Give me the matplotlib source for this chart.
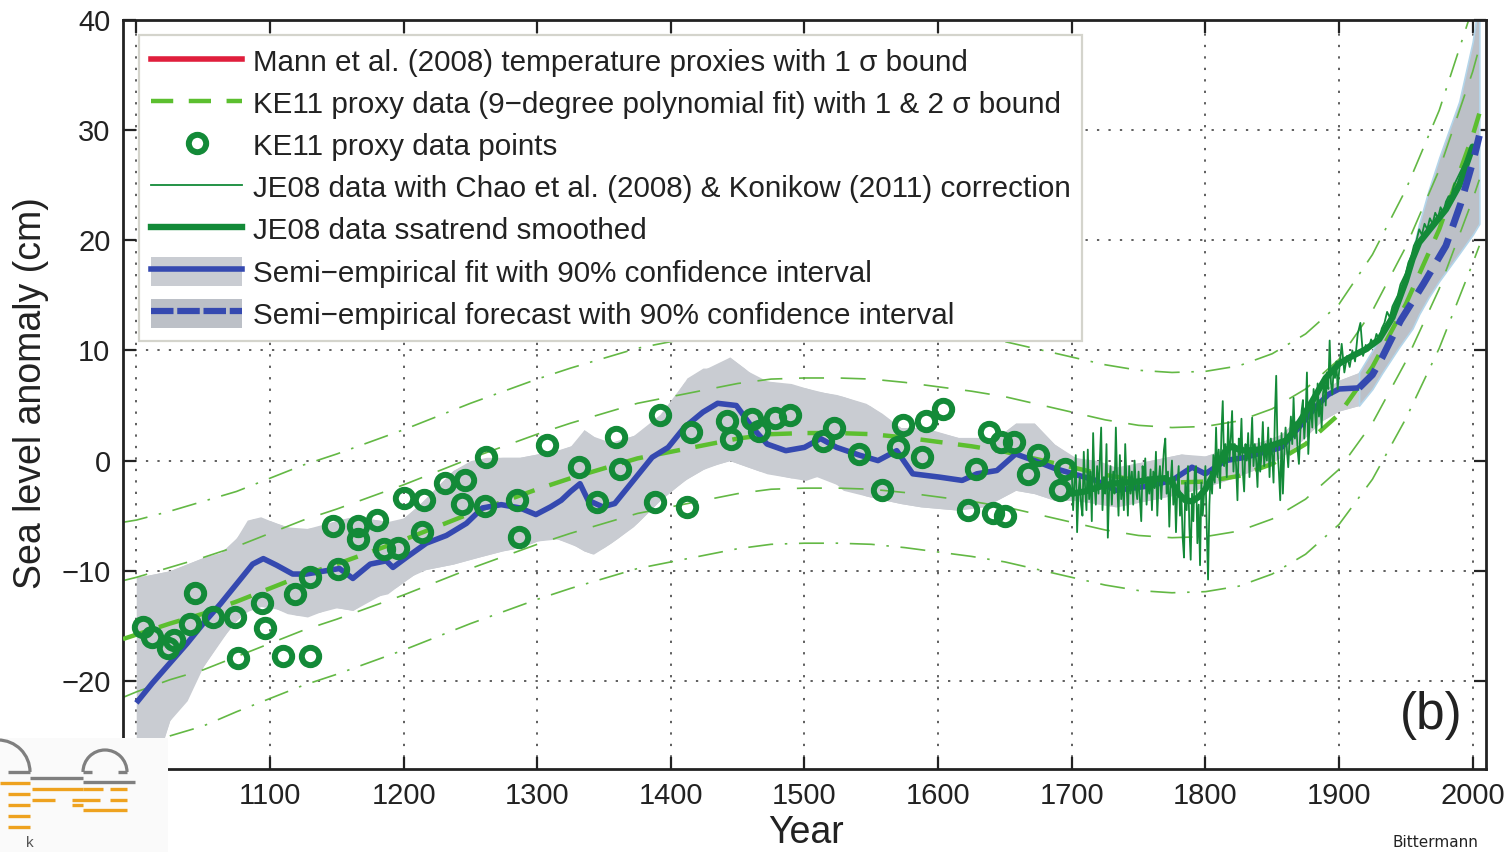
import matplotlib
matplotlib.use("Agg")
import matplotlib.pyplot as plt
import numpy as np
from matplotlib.lines import Line2D
from matplotlib.patches import Patch, Arc
from matplotlib.legend_handler import HandlerTuple

plt.rcParams['font.family'] = ['Liberation Sans', 'DejaVu Sans']

# ---------------- data ----------------
# KE11 9-degree polynomial fit (cm) and its 1-sigma width
ke11_fit_years = [990, 1000, 1025, 1050, 1075, 1100, 1125, 1150, 1175, 1200, 1225, 1250,
                  1275, 1300, 1325, 1350, 1375, 1400, 1425, 1450, 1475, 1500, 1525, 1550,
                  1575, 1600, 1625, 1650, 1675, 1700, 1725, 1750, 1775, 1800, 1825, 1850,
                  1875, 1900, 1925, 1950, 1975, 2000, 2005]
ke11_fit = [-16.2, -15.8, -14.8, -13.9, -12.8, -11.6, -10.4, -9.4, -8.3, -7.2, -6.0, -4.8,
            -3.7, -2.6, -1.6, -0.7, 0.2, 0.8, 1.4, 2.0, 2.4, 2.5, 2.5, 2.4,
            2.1, 1.7, 1.3, 0.8, 0.1, -0.6, -1.3, -1.8, -2.0, -1.9, -1.4, -0.3,
            1.5, 4.2, 8.5, 14.2, 21.0, 29.5, 31.5]
ke11_sigma = [5.3, 5.2, 5.1, 5.1, 5.0, 5.0, 5.0, 5.0, 5.0, 5.0, 5.0, 5.0,
              5.0, 5.0, 5.0, 5.0, 5.0, 5.0, 5.0, 5.0, 5.0, 5.0, 5.0, 5.0,
              5.0, 5.0, 5.0, 5.0, 5.0, 5.0, 5.0, 5.0, 5.0, 5.0, 5.0, 5.0,
              5.0, 5.0, 5.1, 5.2, 5.4, 5.8, 6.0]

# KE11 proxy data points
ke11_pt_years = [1005, 1012, 1024, 1028, 1040, 1044, 1057, 1074, 1076, 1094, 1096, 1110,
                 1130, 1119, 1130, 1151, 1147, 1166, 1166, 1180, 1185, 1196, 1200, 1215,
                 1214, 1231, 1246, 1244, 1261, 1262, 1285, 1286, 1307,
                 1331, 1345, 1359, 1362, 1388, 1392, 1412, 1415, 1442, 1445, 1461, 1466,
                 1478, 1489, 1514, 1522, 1541, 1558, 1570, 1574, 1588, 1591, 1604, 1622,
                 1628, 1638, 1641, 1650, 1647, 1657, 1667, 1675, 1691, 1695]
ke11_pt_vals = [-15.1, -16.0, -17.0, -16.3, -14.8, -12.0, -14.2, -14.2, -17.9, -12.9, -15.2, -17.7,
                -17.7, -12.1, -10.6, -9.8, -5.9, -5.9, -7.1, -5.4, -8.0, -7.9, -3.4, -3.6,
                -6.5, -2.0, -1.8, -3.9, -4.1, 0.3, -3.6, -6.9, 1.4,
                -0.6, -3.8, 2.1, -0.8, -3.8, 4.1, -4.2, 2.6, 3.6, 2.0, 3.8, 2.7,
                3.9, 4.1, 1.8, 3.0, 0.6, -2.7, 1.2, 3.2, 0.3, 3.6, 4.7, -4.5,
                -0.8, 2.6, -4.8, -5.0, 1.7, 1.7, -1.2, 0.5, -2.7, -0.8]

# JE08 (Chao & Konikow corrected) yearly data
je08_years = list(range(1700, 1901)) + list(range(1902, 2001, 2))
je08_vals = [
    -1.0, -4.5, -2.0, 0.5, -6.5, -3.0, -1.5, -4.0, -5.0, 0.8,
    -2.5, -4.5, 1.0, -3.5, -1.0, -5.5, 2.5, -2.0, -4.0, -0.5,
    -3.0, 0.0, 3.0, -4.5, -1.5, -3.0, 1.5, -7.0, -2.5, -0.5,
    -4.0, -1.0, -3.0, 3.0, -2.0, -5.0, 0.5, -3.5, -1.5, -4.5,
    1.5, -2.0, -5.0, -0.5, -3.0, -1.0, -4.0, 0.0, -2.5, -3.5,
    -1.0, -3.5, -5.5, -0.5, -2.0, 0.2, -4.0, -1.5, -3.0, -0.8,
    -4.5, -1.0, -2.5, 0.8, -5.0, -2.0, -0.5, -3.5, -1.0, 1.0,
    2.0, -3.0, -1.0, -6.0, -2.0, 0.0, -4.0, -1.5, -6.5, -2.5,
    -0.5, -5.0, -3.0, -7.0, -8.8, -2.0, -4.5, -0.5, -6.0, -9.0,
    -3.0, -5.5, -1.0, -0.5, -7.5, -4.0, -9.5, -2.0, -5.0, -3.0,
    -0.5, -6.0, -10.8, -4.0, -1.0, -3.0, 0.5, -2.0, 3.0, -1.5,
    1.0, -2.5, 2.5, 5.4, -0.5, 1.5, -1.5, 3.5, 0.0, 2.0,
    4.5, -1.0, 1.5, -0.5, -3.6, 2.0, 0.5, 3.8, -1.0, -2.8,
    1.5, 0.0, 2.5, -1.5, 1.0, 3.9, -0.5, 1.5, 0.0, -2.4,
    2.0, -1.0, 0.5, 3.5, -0.5, 1.5, 0.0, 3.0, -1.5, 2.0,
    0.5, -2.0, 4.0, 7.7, 1.0, -1.0, -3.6, 2.5, -3.0, 0.5,
    3.0, 1.0, -0.6, 2.0, 4.0, 1.5, 5.7, 2.0, 3.5, 1.0,
    -0.3, 2.5, 4.5, 5.5, 2.0, 4.0, 8.0, 0.6, 3.5, 5.0,
    3.0, 6.5, 4.5, 2.5, 7.0, 4.0, 5.5, 3.0, 6.0, 7.5,
    5.0, 8.0, 6.5, 10.9, 7.0, 6.0, 8.5, 7.5, 9.0, 6.5,
    8.0,
    10.6, 8.0, 9.5, 8.5, 10.0, 9.0, 11.5, 12.5, 9.5, 10.5,
    10.0, 11.0, 10.5, 11.5, 11.0, 12.0, 12.5, 13.5, 13.0, 14.0,
    14.5, 15.0, 16.0, 16.5, 17.0, 18.0, 18.5, 19.5, 20.0, 21.0,
    20.5, 21.5, 21.0, 22.0, 21.5, 22.5, 22.0, 23.0, 22.5, 23.5,
    24.0, 24.0, 25.0, 25.5, 26.0, 26.5, 27.0, 27.5, 28.0, 28.5]

# JE08 ssatrend smoothed
je08s_years = [1700, 1710, 1720, 1730, 1740, 1750, 1760, 1770, 1775, 1780, 1785, 1790,
               1795, 1800, 1805, 1810, 1815, 1820, 1825, 1830, 1840, 1850, 1860, 1865,
               1870, 1880, 1890, 1900, 1910, 1920, 1930, 1940, 1950, 1955, 1960, 1970,
               1980, 1990, 2000]
je08s_vals = [-3.0, -2.8, -2.4, -2.1, -2.0, -1.9, -1.7, -1.6, -2.0, -3.0, -3.6, -3.7,
              -3.3, -2.6, -1.5, -0.3, 0.9, 1.3, 1.0, 0.9, 1.0, 1.4, 1.8, 2.5,
              3.4, 5.4, 7.5, 8.8, 9.5, 10.1, 11.0, 13.0, 16.3, 18.3, 19.8, 21.3,
              22.8, 25.0, 28.5]

# Semi-empirical fit
se_years = [1000, 1012, 1025, 1038, 1050, 1063, 1075, 1087, 1095, 1105, 1117, 1127,
            1142, 1152, 1162, 1175, 1187, 1192, 1202, 1217, 1232, 1247, 1259, 1273,
            1287, 1299, 1310, 1318, 1325, 1332, 1338, 1349, 1358, 1372, 1386, 1398,
            1410, 1424, 1435, 1449, 1461, 1472, 1486, 1500, 1512, 1524, 1541, 1555,
            1569, 1581, 1601, 1618, 1629, 1644, 1658, 1672, 1687, 1701, 1718, 1733,
            1758, 1775, 1790, 1800, 1815, 1830, 1845, 1857, 1872, 1882, 1892, 1900, 1915]
se_vals = [-22.0, -20.2, -18.4, -16.6, -14.8, -13.0, -11.2, -9.4, -8.9, -9.5, -10.3, -10.3,
           -10.0, -9.8, -10.7, -9.4, -9.1, -9.7, -8.8, -7.5, -6.8, -5.7, -4.3, -4.0,
           -4.3, -4.9, -4.2, -3.6, -2.8, -2.1, -3.6, -4.2, -3.9, -1.8, 0.3, 1.2,
           3.0, 4.4, 5.2, 5.0, 3.0, 1.5, 0.9, 1.2, 2.0, 1.2, 0.5, 0.0,
           0.9, -1.2, -1.5, -1.8, -1.2, -0.9, 0.6, 0.0, -0.7, -1.2, -1.8, -2.7,
           -2.3, -1.8, -0.6, -1.2, 0.0, 0.3, 0.8, 1.2, 3.3, 4.8, 6.0, 6.5, 6.6]

se_up_years = [1000, 1013, 1025, 1050, 1068, 1075, 1083, 1093, 1105, 1120, 1137, 1150,
               1162, 1182, 1195, 1207, 1217, 1227, 1237, 1250, 1262, 1274, 1287, 1300,
               1315, 1329, 1335, 1341, 1350, 1360, 1375, 1392, 1404, 1412, 1424, 1435,
               1444, 1455, 1466, 1490, 1509, 1524, 1546, 1558, 1572, 1587, 1598, 1615,
               1644, 1658, 1672, 1687, 1701, 1720, 1733, 1758, 1782, 1797, 1818, 1837,
               1857, 1872, 1887, 1900, 1915]
se_up = [-10.6, -10.3, -10.0, -8.8, -8.2, -7.0, -5.4, -5.1, -5.7, -6.3, -6.0, -5.4,
         -5.1, -5.4, -5.7, -4.5, -3.4, -2.1, -0.9, 0.0, 0.3, 0.3, 0.3, 0.6,
         0.9, 1.5, 2.8, 2.3, 1.5, 1.8, 2.4, 4.2, 6.0, 7.5, 8.4, 8.4,
         9.4, 8.4, 7.3, 7.0, 6.3, 6.0, 5.2, 4.3, 3.0, 3.0, 2.7, 2.1,
         2.1, 3.4, 3.4, 1.5, 0.3, 0.0, -0.6, 0.0, 0.6, 0.3, 1.2, 1.5,
         2.4, 4.2, 6.3, 7.3, 8.0]

se_lo_years = [1000, 1015, 1025, 1038, 1050, 1063, 1075, 1087, 1100, 1113, 1128, 1147,
               1162, 1177, 1188, 1200, 1212, 1237, 1255, 1274, 1287, 1300, 1312, 1325,
               1335, 1342, 1355, 1372, 1392, 1410, 1427, 1444, 1458, 1472, 1501, 1515,
               1529, 1549, 1572, 1587, 1615, 1635, 1644, 1658, 1672, 1687, 1703, 1733,
               1758, 1782, 1800, 1823, 1842, 1857, 1872, 1887, 1900, 1915]
se_lo = [-31.0, -27.5, -23.6, -21.8, -18.7, -16.3, -14.5, -13.3, -13.2, -13.9, -14.2, -13.3,
         -13.6, -12.4, -12.1, -11.0, -10.0, -9.4, -8.8, -8.2, -7.9, -7.3, -7.0, -7.5,
         -8.2, -8.5, -7.5, -6.0, -3.6, -1.8, -0.6, 0.0, -0.6, -1.2, -1.8, -1.2,
         -2.7, -3.3, -3.9, -4.2, -4.5, -4.2, -3.6, -2.7, -3.0, -3.6, -3.6, -4.2,
         -3.6, -3.0, -2.4, -1.5, -0.6, 0.3, 1.8, 3.6, 4.5, 5.0]

# Semi-empirical forecast
fc_years = [1915, 1925, 1932, 1946, 1963, 1980, 1991, 2001, 2005]
fc_vals = [6.6, 7.8, 9.3, 12.7, 16.0, 19.5, 23.3, 27.5, 29.5]
fc_band_years = [1915, 1925, 1932, 1945, 1955, 1960, 1967, 1975, 1990, 2000, 2005]
fc_up = [8.0, 10.0, 11.5, 14.5, 19.0, 21.5, 24.5, 27.5, 32.6, 38.0, 42.0]
fc_lo = [5.0, 6.5, 7.9, 10.3, 12.0, 13.3, 14.8, 16.3, 18.8, 20.5, 21.5]

x_ticks = [1000, 1100, 1200, 1300, 1400, 1500, 1600, 1700, 1800, 1900, 2000]
y_ticks = [-20, -10, 0, 10, 20, 30, 40]

legend_labels = [
    "Mann et al. (2008) temperature proxies with 1 \u03c3 bound",
    "KE11 proxy data (9\u2212degree polynomial fit) with 1 & 2 \u03c3 bound",
    "KE11 proxy data points",
    "JE08 data with Chao et al. (2008) & Konikow (2011) correction",
    "JE08 data ssatrend smoothed",
    "Semi\u2212empirical fit with 90% confidence interval",
    "Semi\u2212empirical forecast with 90% confidence interval",
]

# ---------------- styles ----------------
C_RED = '#e01e3c'
C_LGREEN = '#5cbf2f'
C_LGREEN_B = '#63b844'
C_DGREEN = '#138a38'
C_BLUE = '#3549b0'
C_BAND = '#c9ccd2'
C_BAND_FC = '#bcc0c7'
C_BAND_EDGE = '#b3d5ea'
C_TEXT = '#222222'

W, H = 1510, 852
fig = plt.figure(figsize=(W / 100, H / 100), dpi=100)
ax = fig.add_axes([123 / W, 1 - 769 / H, (1486 - 123) / W, (769 - 20) / H])

# bands
ax.fill_between(se_up_years, se_up, np.interp(se_up_years, se_lo_years, se_lo),
                color=C_BAND, lw=0, zorder=1)
ax.fill_between(se_lo_years, np.interp(se_lo_years, se_up_years, se_up), se_lo,
                color=C_BAND, lw=0, zorder=1)
ax.fill_between(fc_band_years, fc_up, fc_lo, facecolor=C_BAND_FC, edgecolor=C_BAND_EDGE,
                lw=1.2, zorder=1)

# KE11 fit and bounds
fy = np.array(ke11_fit_years)
fv = np.array(ke11_fit)
fs = np.array(ke11_sigma)
for k in (1, -1):
    ax.plot(fy, fv + k * fs, color=C_LGREEN_B, lw=1.2, ls=(0, (15, 10)), zorder=2)
    ax.plot(fy, fv + 2 * k * fs, color=C_LGREEN_B, lw=1.2, ls=(0, (15, 7, 1.5, 7)), zorder=2)
ax.plot(fy, fv, color=C_LGREEN, lw=3.2, ls=(0, (5, 3.5)), zorder=3)

# semi-empirical fit
ax.plot(se_years, se_vals, color=C_BLUE, lw=4, zorder=4, solid_capstyle='butt')

# KE11 points
ax.plot(ke11_pt_years, ke11_pt_vals, ls='none', marker='o', ms=12.5, mew=4.3,
        mec=C_DGREEN, mfc='none', zorder=5)

# JE08 data
ax.plot(je08_years, je08_vals, color=C_DGREEN, lw=1.3, zorder=6)
ax.plot(je08s_years, je08s_vals, color=C_DGREEN, lw=4.6, zorder=7, solid_capstyle='round')

# forecast
ax.plot(fc_years, fc_vals, color=C_BLUE, lw=5, ls=(0, (3.6, 1.8)), zorder=8)

ax.set_xlim(990, 2010)
ax.set_ylim(-28, 40)
ax.set_xticks(x_ticks)
ax.set_yticks(y_ticks)
ax.set_yticklabels([str(v).replace('-', '\u2212') for v in y_ticks])
ax.grid(True, color='#333333', lw=1.1, ls=(0, (1.5, 6)))
ax.set_axisbelow(True)
ax.tick_params(direction='in', length=9, width=1.6, top=True, right=True,
               labelsize=21, pad=9, colors=C_TEXT)
for s in ax.spines.values():
    s.set_linewidth(2)
    s.set_color(C_TEXT)

fig.text(31 / W, 1 - 393 / H, 'Sea level anomaly (cm)', rotation=90, ha='center',
         va='center', fontsize=27, color=C_TEXT)
fig.text(806 / W, 1 - 843 / H, 'Year', ha='center', va='baseline', fontsize=27, color=C_TEXT)
ax.text(0.960, 0.072, '(b)', transform=ax.transAxes, ha='center', va='center',
        fontsize=37, color=C_TEXT)

# legend
h_mann = Line2D([], [], color=C_RED, lw=4)
h_ke = Line2D([], [], color=C_LGREEN, lw=3.2, ls=(0, (5, 3.5)))
h_pts = Line2D([], [], ls='none', marker='o', ms=12.5, mew=4.3, mec=C_DGREEN, mfc='none')
h_je = Line2D([], [], color=C_DGREEN, lw=1.3)
h_jes = Line2D([], [], color=C_DGREEN, lw=4.6)
h_se = (Patch(facecolor=C_BAND, edgecolor='none'), Line2D([], [], color=C_BLUE, lw=4))
h_fc = (Patch(facecolor=C_BAND_FC, edgecolor='none'),
        Line2D([], [], color=C_BLUE, lw=4.5, ls=(0, (3.6, 0.6))))
leg = ax.legend([h_mann, h_ke, h_pts, h_je, h_jes, h_se, h_fc], legend_labels,
                loc='upper left', bbox_to_anchor=(0.0117, 0.98), borderaxespad=0,
                fontsize=21.3, handlelength=3.1, handleheight=1.1, handletextpad=0.34,
                labelspacing=0.40, borderpad=0.40, numpoints=1, fancybox=False,
                framealpha=1, edgecolor='#d4d4cc',
                handler_map={tuple: HandlerTuple(ndivide=1, pad=0)})
leg.get_frame().set_linewidth(1.6)
for t in leg.get_texts():
    t.set_color(C_TEXT)
leg.set_zorder(20)

# logo overlay (bottom-left)
lax = fig.add_axes([0, 0, 168 / W, (852 - 738) / H], zorder=30)
lax.set_xlim(0, 168)
lax.set_ylim(852, 738)
lax.set_facecolor('#fafafa')
lax.set_xticks([])
lax.set_yticks([])
for s in lax.spines.values():
    s.set_visible(False)
G = '#7f7f7f'
O = '#eea21f'
lax.add_patch(Arc((-2, 772), 64, 64, theta1=180, theta2=360, color=G, lw=2.3))
lax.add_patch(Arc((105, 772), 44, 44, theta1=180, theta2=360, color=G, lw=2.3))
for x0, x1, y, c in [(8, 30, 772, G), (83, 92, 772, G), (118, 127, 772, G),
                     (30, 83, 778, G), (83, 135, 782, G),
                     (0, 30, 783, O), (32, 83, 789, O), (83, 103, 789, O), (110, 127, 789, O),
                     (8, 30, 794, O), (32, 55, 800, O), (72, 100, 800, O), (110, 127, 800, O),
                     (8, 30, 805, O), (72, 83, 805, O), (83, 127, 810, O),
                     (8, 30, 816, O), (8, 30, 827, O)]:
    lax.plot([x0, x1], [y, y], color=c, lw=2.4, solid_capstyle='butt')
lax.text(30, 850, 'k', color='#555555', fontsize=11, ha='center', va='bottom')

fig.text(1392 / W, 2 / H, 'Bittermann', ha='left', va='bottom', fontsize=11,
         color=C_TEXT, family=['DejaVu Sans'])

fig.savefig('out.png', dpi=100)
